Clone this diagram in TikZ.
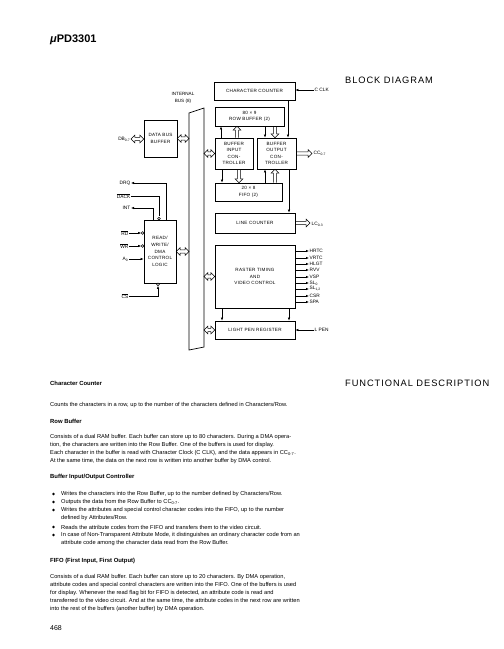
\documentclass[tikz,border=0pt]{standalone}
\usepackage{fontspec}
\setmainfont{Liberation Sans}
\usetikzlibrary{arrows.meta,calc}
\newcommand\HDA[2]{\draw[hol] let \p1=#1,\p2=#2 in (\x1,\y1)--(\x1+3.8pt,\y1+3.8pt)--(\x1+3.8pt,\y1+1.7pt)--(\x2-3.8pt,\y1+1.7pt)--(\x2-3.8pt,\y1+3.8pt)--(\x2,\y1)--(\x2-3.8pt,\y1-3.8pt)--(\x2-3.8pt,\y1-1.7pt)--(\x1+3.8pt,\y1-1.7pt)--(\x1+3.8pt,\y1-3.8pt)--cycle;}
\newcommand\HSA[2]{\draw[hol] let \p1=#1,\p2=#2 in (\x1,\y1+1.7pt)--(\x2-3.8pt,\y1+1.7pt)--(\x2-3.8pt,\y1+3.8pt)--(\x2,\y1)--(\x2-3.8pt,\y1-3.8pt)--(\x2-3.8pt,\y1-1.7pt)--(\x1,\y1-1.7pt);}
\newcommand\VSA[2]{\draw[hol] let \p1=#1,\p2=#2,\n1={ifthenelse(\y2>\y1,1,-1)} in (\x1-1.7pt,\y1)--(\x1-1.7pt,\y2-\n1*3.8pt)--(\x1-3.8pt,\y2-\n1*3.8pt)--(\x1,\y2)--(\x1+3.8pt,\y2-\n1*3.8pt)--(\x1+1.7pt,\y2-\n1*3.8pt)--(\x1+1.7pt,\y1);}
\begin{document}
\begin{tikzpicture}[x=1pt,y=-1pt,
  box/.style={draw,line width=0.7pt,inner sep=0pt,align=center,font=\fontsize{4.6}{6.6}\selectfont\addfontfeature{LetterSpace=6}},
  lbl/.style={inner sep=0.5pt,font=\fontsize{4.8}{6}\selectfont},
  hol/.style={line width=0.55pt,line join=miter},
  sarr/.style={line width=0.55pt,-{Latex[length=3pt,width=2.4pt]}},
  wire/.style={line width=0.55pt},
  bub/.style={line width=0.55pt,fill=white},
  body/.style={anchor=west,inner sep=0pt,font=\fontsize{5.7}{7}\selectfont},
  head/.style={anchor=west,inner sep=0pt,font=\fontsize{5.9}{7}\selectfont\bfseries},
  big/.style={anchor=west,inner sep=0pt,font=\fontsize{9.3}{11}\selectfont\addfontfeature{LetterSpace=10}},
]
\useasboundingbox (0,0) rectangle (504,649);
% title
\node[anchor=west,inner sep=0pt,font=\fontsize{11}{13}\selectfont\bfseries] (title) at (50,40) {{\itshape μ}PD3301};
\node[big] (bd) at (345,80) {BLOCK DIAGRAM};
% boxes
\node[box,minimum width=81pt,minimum height=18pt] (cc) at (254.5,91) {CHARACTER COUNTER};
\node[box,minimum width=69pt,minimum height=19pt] (rb) at (249.5,116.5) {80 × 9\\ROW BUFFER (2)};
\node[box,minimum width=38pt,minimum height=31pt] (bic) at (234,153.5) {BUFFER\\INPUT\\CON-\\TROLLER};
\node[box,minimum width=39pt,minimum height=31pt] (boc) at (276.5,153.5) {BUFFER\\OUTPUT\\CON-\\TROLLER};
\node[box,minimum width=67pt,minimum height=18pt] (fifo) at (248.5,192) {20 × 8\\FIFO (2)};
\node[box,minimum width=80pt,minimum height=20pt] (lc) at (255,223) {LINE COUNTER};
\node[box,minimum width=80pt,minimum height=63pt] (rt) at (255,276.5) {RASTER TIMING\\AND\\VIDEO CONTROL};
\node[box,minimum width=80pt,minimum height=18pt] (lp) at (255,330) {LIGHT PEN REGISTER};
\node[box,minimum width=33pt,minimum height=37pt] (dbb) at (160.5,138.5) {DATA BUS\\BUFFER};
\node[box,minimum width=32pt,minimum height=63pt] (rw) at (160,251.5) {READ/\\WRITE/\\DMA\\CONTROL\\LOGIC};
% internal bus
\draw[line width=0.7pt] (189,113) -- (204,108) -- (204,347) -- (189,350) -- cycle;
\node[lbl,align=center,font=\fontsize{4.6}{6.6}\selectfont] (busl) at (183,98) {INTERNAL\\BUS (8)};
\coordinate (bL) at (189,0);
\coordinate (bR) at (204,0);
% hollow bus arrows
\node[lbl,anchor=east] (db) at (131,139) {DB\textsubscript{0-7}};
\HDA{(db.east)}{(dbb.west)}
\HDA{(dbb.east)}{(bL |- dbb.east)}
\HDA{(bR |- bic.west)}{(bic.west)}
\HDA{(rw.east)}{(bL |- rw.east)}
\HDA{(bR |- rt.west)}{(rt.west)}
\HDA{(bR |- lp.west)}{(lp.west)}
% outputs
\coordinate (ccend) at (312,152);
\HSA{(boc.east)}{(ccend)}
\node[lbl,anchor=west] (ccl) at (313,153) {CC\textsubscript{0-7}};
\coordinate (lcend) at (310,223);
\HSA{(lc.east)}{(lcend)}
\node[lbl,anchor=west] (lcl) at (311,224) {LC\textsubscript{0-3}};
\node[lbl,anchor=west] (clk) at (314,90) {C CLK};
\draw[sarr] (clk.west) -- (cc.east |- clk.west);
\node[lbl,anchor=west] (lpen) at (314,330) {L PEN};
\draw[sarr] (lpen.west) -- (lp.east |- lpen.west);
% row buffer / controllers / fifo
\draw[sarr] (221,0 |- bic.north) -- (221,0 |- rb.south);
\VSA{(237,0 |- bic.north)}{(237,0 |- rb.south)}
\draw[sarr] (265,0 |- rb.south) -- (265,0 |- boc.north);
\VSA{(275,0 |- rb.south)}{(275,0 |- boc.north)}
\draw[sarr] (222,0 |- bic.south) -- (222,0 |- fifo.north);
\VSA{(239,0 |- bic.south)}{(239,0 |- fifo.north)}
\draw[sarr] (265,0 |- fifo.north) -- (265,0 |- boc.south);
\VSA{(275,0 |- fifo.north)}{(275,0 |- boc.south)}
\draw[sarr] (288,0 |- cc.south) -- (288,0 |- boc.north);
\draw[sarr] (289,0 |- boc.south) -- (289,0 |- lc.north);
\draw[sarr] (222,0 |- rt.south) -- (222,0 |- lp.north);
\draw[sarr] (289,0 |- rt.south) -- (289,0 |- lp.north);
% raster outputs
\foreach \n/\t/\y in {o1/HRTC/251,o2/VRTC/258,o3/HLGT/264,o4/RVV/270,o5/VSP/277,o6/SL\textsubscript{0}/283,o7/SL\textsubscript{1,2}/289,o8/CSR/296,o9/SPA/302}{
  \node[lbl,anchor=west] (\n) at (309,\y) {\t};
  \draw[sarr] (rt.east |- \n.west) -- (\n.west);
}
% read/write control signals
\node[lbl,anchor=east] (drq) at (131,183) {DRQ};
\node[lbl,anchor=east] (dack) at (131,196) {$\overline{\mbox{DACK}}$};
\node[lbl,anchor=east] (int) at (131,208) {INT};
\draw[sarr] (166,0 |- rw.north) |- (drq.east);
\draw[wire] (dack.east) -| (159,216.2);
\draw[bub] (159,218.6) circle (1.4pt);
\draw[sarr] (153,0 |- rw.north) |- (int.east);
\foreach \n/\t/\y in {rd/{$\overline{\mbox{RD}}$}/233,wr/{$\overline{\mbox{WR}}$}/246}{
  \node[lbl,anchor=east] (\n) at (129,\y) {\t};
  \draw[sarr] (\n.east) -- (141.2,\y);
  \draw[bub] (142.6,\y) circle (1.4pt);
}
\node[lbl,anchor=east] (a0) at (129,259) {A\textsubscript{0}};
\draw[sarr] (a0.east) -- (rw.west |- a0.east);
\node[lbl,anchor=east] (cs) at (129,296) {$\overline{\mbox{CS}}$};
\draw[sarr] (cs.east) -| (158,285.8);
\draw[bub] (158,284.4) circle (1.4pt);
% functional description
\node[big] (fd) at (345,383) {FUNCTIONAL DESCRIPTION};
\node[head] (h1) at (50,383) {Character Counter};
\node[body] (t1) at (50,405) {Counts the characters in a row, up to the number of the characters defined in Characters/Row.};
\node[head] (h2) at (50,421) {Row Buffer};
\node[body] (t2) at (50,437) {Consists of a dual RAM buffer. Each buffer can store up to 80 characters. During a DMA opera-};
\node[body] (t3) at (50,445) {tion, the characters are written into the Row Buffer. One of the buffers is used for display.};
\node[body] (t4) at (50,453) {Each character in the buffer is read with Character Clock (C CLK), and the data appears in CC\textsubscript{0-7}.};
\node[body] (t5) at (50,461) {At the same time, the data on the next row is written into another buffer by DMA control.};
\node[head] (h3) at (50,477) {Buffer Input/Output Controller};
\foreach \n/\y/\t in {b1/494/{Writes the characters into the Row Buffer, up to the number defined by Characters/Row.},
  b2/502/{Outputs the data from the Row Buffer to CC\textsubscript{0-7}.},
  b3/510/{Writes the attributes and special control character codes into the FIFO, up to the number},
  b4/527/{Reads the attribute codes from the FIFO and transfers them to the video circuit.},
  b5/535/{In case of Non-Transparent Attribute Mode, it distinguishes an ordinary character code from an}}{
  \node[body] (\n) at (61,\y) {\t};
  \fill (53.5,\y) circle (1.3pt);
}
\node[body] (b3b) at (61,518) {defined by Attributes/Row.};
\node[body] (b5b) at (61,543) {attribute code among the character data read from the Row Buffer.};
\node[head] (h4) at (50,561) {FIFO (First Input, First Output)};
\node[body] (f1) at (50,577) {Consists of a dual RAM buffer. Each buffer can store up to 20 characters. By DMA operation,};
\node[body] (f2) at (50,585) {attribute codes and special control characters are written into the FIFO. One of the buffers is used};
\node[body] (f3) at (50,593) {for display. Whenever the read flag bit for FIFO is detected, an attribute code is read and};
\node[body] (f4) at (50,601) {transferred to the video circuit. And at the same time, the attribute codes in the next row are written};
\node[body] (f5) at (50,609) {into the rest of the buffers (another buffer) by DMA operation.};
\node[anchor=west,inner sep=0pt,font=\fontsize{7}{8}\selectfont] (pg) at (50,628) {468};
\end{tikzpicture}
\end{document}
